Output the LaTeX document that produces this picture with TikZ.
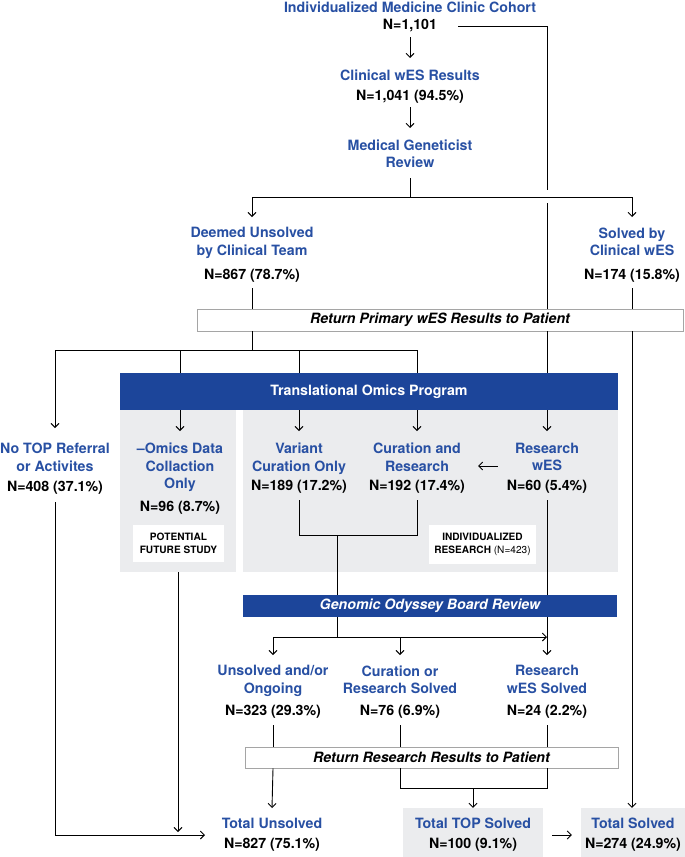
\documentclass[tikz,border=0pt]{standalone}
\usepackage{fontspec}
\setmainfont{TeX Gyre Heros}
\usetikzlibrary{arrows.meta}
\definecolor{tblue}{RGB}{40,80,163}
\definecolor{hblue}{RGB}{28,69,154}
\definecolor{pgray}{RGB}{235,236,238}
\definecolor{bgray}{RGB}{165,165,165}
\begin{document}
\begin{tikzpicture}[x=1pt,y=-1pt,
  ttl/.style={font=\fontsize{14.2}{17.5}\selectfont\bfseries, text=tblue, align=center, inner sep=0pt, anchor=north, yshift=5.1pt},
  cnt/.style={font=\fontsize{14.2}{17}\selectfont\bfseries, text=black, inner sep=0pt, anchor=north, yshift=5.1pt},
  ln/.style={line width=0.9pt, black},
  arr/.style={ln, -{Straight Barb[length=4pt,width=8pt,line width=0.9pt]}},
  rbox/.style={draw=bgray, line width=0.8pt, fill=white, inner sep=0pt,
    font=\fontsize{14.2}{17}\selectfont\bfseries\itshape},
  hdr/.style={fill=hblue, text=white, inner sep=0pt, font=\fontsize{14.2}{17}\selectfont\bfseries},
  panel/.style={fill=pgray, inner sep=0pt},
  wbox/.style={fill=white, inner sep=0pt, align=center, font=\fontsize{10.1}{12.8}\selectfont\bfseries}
]
\useasboundingbox (0,0) rectangle (685,857);

% panels
\node[panel, minimum width=116pt, minimum height=162pt] (lp) at (178,491) {};
\node[panel, minimum width=375pt, minimum height=162pt] (rpn) at (430.5,491) {};
\node[panel, minimum width=140pt, minimum height=49pt] (tts) at (473,832.5) {};
\node[panel, minimum width=104pt, minimum height=49pt] (ts) at (633,832.5) {};

% texts
\node[ttl] (imc) at (410,6.5) {Individualized Medicine Clinic Cohort};
\node[cnt] (imcN) at (410,24.5) {N=1,101};
\node[ttl] (cw) at (410,75) {Clinical wES Results};
\node[cnt] (cwN) at (410,95) {N=1,041 (94.5\%)};
\node[ttl] (mgr) at (410,144.5) {Medical Geneticist\\Review};
\node[ttl] (du) at (252,232.5) {Deemed Unsolved\\by Clinical Team};
\node[cnt] (duN) at (252,274) {N=867 (78.7\%)};
\node[ttl] (sc) at (632,232.5) {Solved by\\Clinical wES};
\node[cnt] (scN) at (632,274) {N=174 (15.8\%)};

\node[ttl] (nt) at (55,448) {No TOP Referral\\or Activites};
\node[cnt] (ntN) at (55,486.5) {N=408 (37.1\%)};
\node[ttl] (om) at (180,448) {\textendash Omics Data\\Collaction\\Only};
\node[cnt] (omN) at (180,506.5) {N=96 (8.7\%)};
\node[ttl] (vc) at (299,448) {Variant\\Curation Only};
\node[cnt] (vcN) at (299,485.5) {N=189 (17.2\%)};
\node[ttl] (cr) at (417,448) {Curation and\\Research};
\node[cnt] (crN) at (417,485.5) {N=192 (17.4\%)};
\node[ttl] (rw) at (547,448) {Research\\wES};
\node[cnt] (rwN) at (547,485.5) {N=60 (5.4\%)};

\node[wbox, minimum width=91pt, minimum height=37pt] (pfs) at (178.5,543.5) {POTENTIAL\\FUTURE STUDY};
\node[wbox, minimum width=107pt, minimum height=39pt] (ir) at (482.5,544.5) {INDIVIDUALIZED\\RESEARCH {\mdseries (N=423)}};

\node[ttl] (uo) at (273,670.5) {Unsolved and/or\\Ongoing};
\node[cnt] (uoN) at (273,710) {N=323 (29.3\%)};
\node[ttl] (cs) at (400,670.5) {Curation or\\Research Solved};
\node[cnt] (csN) at (400,710) {N=76 (6.9\%)};
\node[ttl] (rs) at (547,670.5) {Research\\wES Solved};
\node[cnt] (rsN) at (547,710) {N=24 (2.2\%)};

\node[ttl] (tu) at (272,823) {Total Unsolved};
\node[cnt] (tuN) at (272,843) {N=827 (75.1\%)};
\node[ttl] (ttsT) at (473,823) {Total TOP Solved};
\node[cnt] (ttsN) at (473,843) {N=100 (9.1\%)};
\node[ttl] (tsT) at (633,823) {Total Solved};
\node[cnt] (tsN) at (633,843) {N=274 (24.9\%)};

% boxes
\node[rbox, minimum width=486pt, minimum height=22pt] (rp) at (440,320) {Return Primary wES Results to Patient};
\node[rbox, minimum width=373pt, minimum height=21pt] (rr) at (431.5,757.5) {Return Research Results to Patient};

% junction coordinates
\coordinate (j1) at (410,197);
\coordinate (j2) at (252,350);
\coordinate (j3) at (337,535);
\coordinate (j4) at (337,637);
\coordinate (j5) at (473,788);
\coordinate (tuin) at (205,835);

% connectors
\draw[arr] (imcN |- 0,37) -- (cw |- 0,58);
\draw[arr] (cwN |- 0,107) -- (mgr |- 0,128);
\draw[ln] (mgr |- 0,178) -- (j1);
\draw[arr] (j1) -| (du |- 0,217);
\draw[arr] (j1) -| (sc |- 0,217);
\draw[ln] ([xshift=21pt]imcN.east) -| (rw |- 0,190);
\draw[ln] (rw |- 0,203) -- (rw |- rp.north);
\draw[ln] (duN |- 0,288) -- (duN |- rp.north);
\draw[ln] (scN |- 0,288) -- (scN |- rp.north);
\draw[ln] (du |- rp.south) -- (j2);
\draw[arr] (j2) -| (nt |- 0,428);
\draw[arr] (j2) -| (cr |- 0,431);
\draw[arr] (om |- j2) -- (om |- 0,431);
\draw[arr] (vc |- j2) -- (vc |- 0,431);
\draw[arr] (rw |- rp.south) -- (rw |- 0,431);
\draw[arr] (sc |- rp.south) -- (sc |- ts.north);
\draw[arr, shorten <=17pt, shorten >=17pt] (rw.west |- 0,466) -- (cr.east |- 0,466);
\draw[ln] (vcN |- 0,500) |- (crN |- j3) -- (crN |- 0,500);
\draw[ln] (j3) -- (j4);
\draw[arr] (ntN |- 0,502) |- (tuin);
\draw[arr] (lp.south) -- (lp.south |- 0,832);
\draw[arr] (rwN |- 0,500) -- (rs |- 0,655);
\draw[arr] (j4) -| (uo |- 0,655);
\draw[arr] (j4) -- (rs |- j4);
\draw[arr] (cs |- j4) -- (cs |- 0,655);
\draw[ln] (uoN |- 0,725) -- (uoN |- rr.north);
\draw[ln] (csN |- 0,725) -- (csN |- rr.north);
\draw[ln] (rsN |- 0,725) -- (rsN |- rr.north);
\draw[arr] (uoN |- rr.south) -- (tu |- 0,808);
\draw[ln] (csN |- rr.south) |- (rsN |- j5) -- (rsN |- rr.south);
\draw[arr] (j5) -- (tts.north);
\draw[arr, shorten <=9pt, shorten >=9pt] (tts.east |- 0,835) -- (ts.west |- 0,835);

% headers on top
\node[hdr, minimum width=498pt, minimum height=37pt] (top) at (369,391.5) {Translational Omics Program};
\node[hdr, minimum width=374pt, minimum height=22pt, font=\fontsize{14.2}{17}\selectfont\bfseries\itshape] (gob) at (430,606) {Genomic Odyssey Board Review};
\end{tikzpicture}
\end{document}
